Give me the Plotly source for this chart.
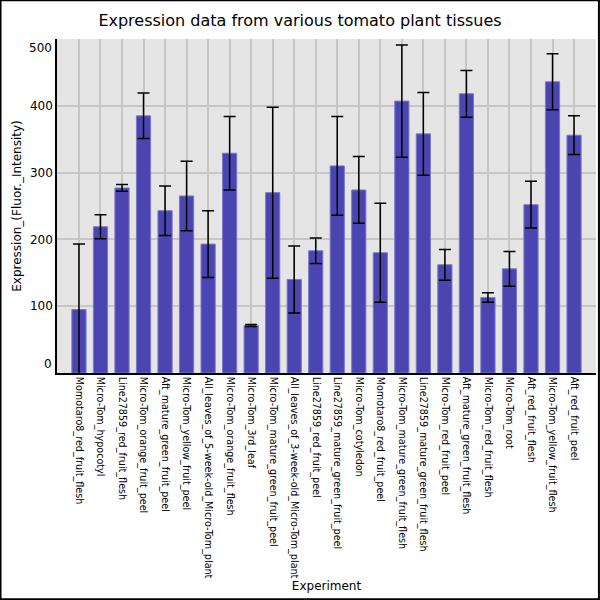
"""Tomato tissue expression bar chart with error bars (Plotly)."""

import plotly.graph_objects as go

TITLE = "Expression data from various tomato plant tissues"

experiments = [
    "Momotaro8_red_fruit_flesh",
    "Micro-Tom_hypocotyl",
    "Line27859_red_fruit_flesh",
    "Micro-Tom_orange_fruit_peel",
    "Aft_mature_green_fruit_peel",
    "Micro-Tom_yellow_fruit_peel",
    "All_leaves_of_5-week-old_Micro-Tom_plant",
    "Micro-Tom_orange_fruit_flesh",
    "Micro-Tom_3rd_leaf",
    "Micro-Tom_mature_green_fruit_peel",
    "All_leaves_of_3-week-old_Micro-Tom_plant",
    "Line27859_red_fruit_peel",
    "Line27859_mature_green_fruit_peel",
    "Micro-Tom_cotyledon",
    "Momotaro8_red_fruit_peel",
    "Micro-Tom_mature_green_fruit_flesh",
    "Line27859_mature_green_fruit_flesh",
    "Micro-Tom_red_fruit_peel",
    "Aft_mature_green_fruit_flesh",
    "Micro-Tom_red_fruit_flesh",
    "Micro-Tom_root",
    "Aft_red_fruit_flesh",
    "Micro-Tom_yellow_fruit_flesh",
    "Aft_red_fruit_peel",
]

expression = [
    95, 219, 277, 385, 243, 265, 193, 329, 71, 270, 140, 183,
    310, 274, 180, 407, 358, 162, 418, 113, 156, 252, 436, 356,
]

std_dev = [
    98, 18, 5, 34, 37, 52, 50, 55, 1.5, 128, 50, 19,
    74, 50, 74, 84, 62, 23, 35, 7, 26, 35, 42, 29,
]

y_ticks = [100, 200, 300, 400]

# margins chosen so the plot area sits where the reference has it
ML, MR, MT, MB = 57, 4, 39, 227
W = H = 600
pw = W - ML - MR
ph = H - MT - MB

idx = list(range(len(experiments)))

fig = go.Figure(go.Bar(
    x=idx,
    y=expression,
    width=0.66,
    marker=dict(color="#4a45b1", line=dict(color="#7d79c8", width=1)),
    error_y=dict(type="data", array=std_dev, visible=True,
                 color="black", thickness=1.5, width=6),
))

fig.update_layout(
    width=W, height=H,
    margin=dict(l=ML, r=MR, t=MT, b=MB, pad=0, autoexpand=False),
    paper_bgcolor="white",
    plot_bgcolor="#e5e5e5",
    font=dict(family="DejaVu Sans", color="black"),
    showlegend=False,
    title=dict(text=TITLE, x=0.5, xanchor="center", y=1 - 20 / H, yanchor="middle",
               font=dict(size=16), automargin=False),
)

fig.update_xaxes(
    range=[-1.02, len(experiments) + 0.02],
    tickvals=idx, ticktext=experiments, tickangle=90,
    tickfont=dict(size=9.6),
    showgrid=True, gridcolor="#c6c6c6", gridwidth=1.5,
    showline=True, linecolor="black", linewidth=1.5,
    ticks="", zeroline=False, automargin=False,
    title=dict(text="Experiment", font=dict(size=12), standoff=2),
)

fig.update_yaxes(
    range=[0, 500],
    tickvals=y_ticks, tickfont=dict(size=12),
    showgrid=True, gridcolor="#c6c6c6", gridwidth=1.5,
    showline=True, linecolor="black", linewidth=1.5,
    ticks="", zeroline=False, automargin=False,
    title=dict(text="Expression_(Fluor._Intensity)", font=dict(size=12), standoff=6),
)

# end labels pulled inside the axis span, as in the reference
fig.add_annotation(text="0", xref="paper", x=0, xanchor="right", xshift=-3,
                   yref="y", y=0, yanchor="bottom", showarrow=False,
                   font=dict(size=12))
fig.add_annotation(text="500", xref="paper", x=0, xanchor="right", xshift=-3,
                   yref="y", y=500, yanchor="top", showarrow=False,
                   font=dict(size=12))

# black frame round the whole picture
fig.add_shape(type="rect", xref="paper", yref="paper",
              x0=-ML / pw + 0.001, x1=1 + MR / pw - 0.002,
              y0=-MB / ph + 0.002, y1=1 + MT / ph - 0.001,
              line=dict(color="black", width=2), layer="above")

# drop the default page margin so the figure fills the window
fig.write_html("out.html", config={"displayModeBar": False},
               post_script="document.body.style.margin='0';")
